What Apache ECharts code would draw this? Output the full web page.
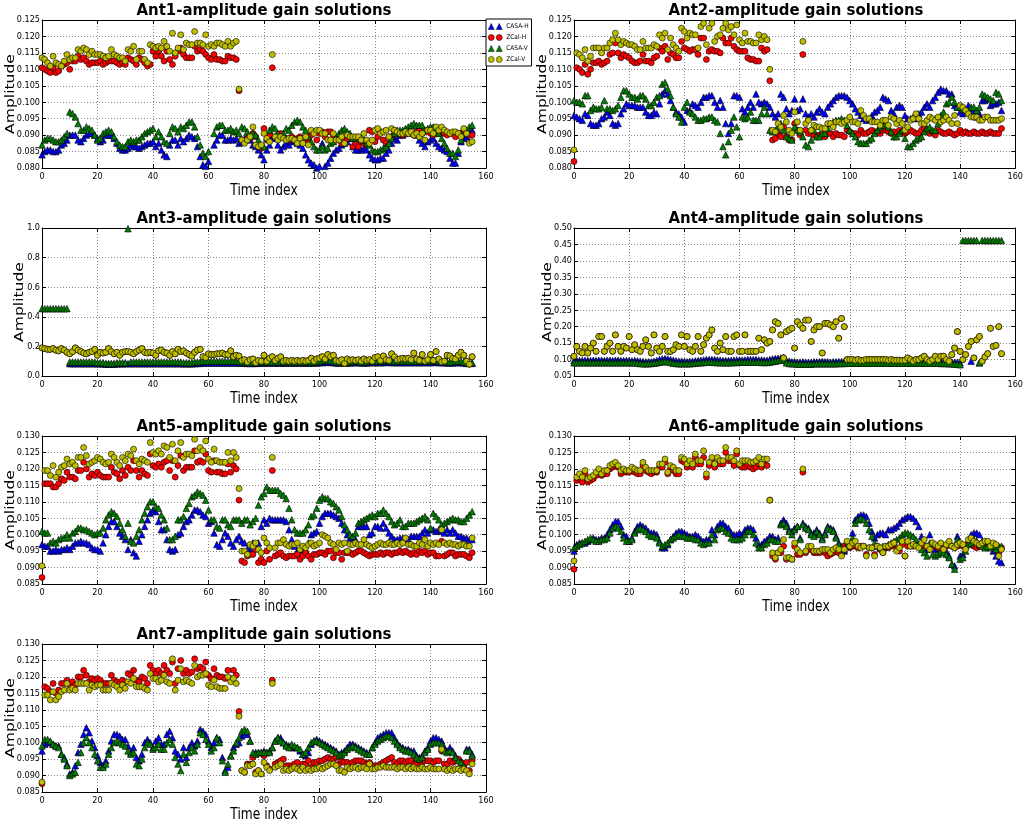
<!DOCTYPE html>
<html>
<head>
<meta charset="utf-8">
<script src="https://cdn.jsdelivr.net/npm/echarts@6/dist/echarts.min.js"></script>
<style>html,body{margin:0;padding:0;background:#fff;}#c{width:1026px;height:824px;}</style>
</head>
<body>
<div id="c"></div>
<script>
// ---------- DATA (time index = array position 0..155) ----------
const seriesNames = ['CASA-H','ZCal-H','CASA-V','ZCal-V'];
const xTicks = [0,20,40,60,80,100,120,140,160];

// Ant1
const a1_casaH = [0.084,0.085,0.0855,0.0855,0.085,0.085,0.0855,0.087,0.0875,0.0885,
0.090,0.090,0.090,0.0885,0.088,0.089,0.090,0.0905,0.0905,0.090,
0.089,0.088,0.0885,0.090,0.090,0.090,0.089,0.0875,0.086,0.0855,
0.0855,0.086,0.087,0.0865,0.0865,0.086,0.0865,0.087,0.0875,0.0875,
0.088,0.0865,0.0875,0.0855,0.084,0.0835,0.087,0.0885,0.0885,0.087,
0.089,0.088,0.089,0.090,0.0895,0.089,0.0865,0.0835,0.081,0.0805,
0.082,null,0.087,0.0885,0.090,0.090,0.0885,0.0885,0.089,0.0885,
0.089,0.0875,0.088,0.089,0.0895,0.0885,0.087,0.0865,0.0855,0.084,
0.0825,0.0855,0.087,0.0895,0.089,0.087,0.0855,0.0865,0.0875,0.087,
0.088,0.0885,0.0875,0.087,0.086,0.084,0.0825,0.0815,0.081,0.080,
0.0805,0.0875,0.0805,0.0815,0.083,0.0845,0.0855,0.086,0.087,0.0875,
0.088,0.089,0.0865,0.0855,0.0855,0.0855,0.086,0.0855,0.084,0.083,
0.0825,0.0825,0.083,0.083,0.0845,0.0855,0.0875,0.089,0.0885,0.090,
0.090,0.0905,0.091,0.091,0.0905,0.090,0.0885,0.0875,0.0865,0.088,
0.0885,0.089,0.0875,0.0865,0.086,0.0855,0.085,0.083,0.0815,0.0815,
0.0845,0.088,0.089,0.0895,0.0905,0.0915];
const a1_zcalH = [0.1105,0.110,0.1095,0.109,0.1105,0.109,0.1095,0.111,0.1115,0.112,
0.110,0.1125,0.1125,0.114,0.113,0.1135,0.1125,0.1115,0.112,0.112,
0.112,0.1125,0.1115,0.112,0.1125,0.1125,0.1125,0.112,0.1115,0.112,
0.1115,0.1135,0.113,0.1125,0.1115,0.1135,0.113,0.112,0.111,0.1115,
0.1155,0.114,0.1155,0.114,0.1125,0.1155,0.113,0.1115,0.114,0.1155,
0.1165,0.1145,0.1135,0.1135,0.1135,0.117,0.1155,0.116,0.1155,0.1145,
0.1135,0.113,0.1145,0.113,0.113,0.1125,0.1125,0.114,0.1135,0.1135,
0.113,0.1035,0.0885,0.0885,0.089,0.089,0.0905,0.0895,0.087,0.086,
0.092,0.0885,0.090,0.1105,0.0895,0.090,0.0905,0.0895,0.089,0.0885,
0.0895,0.0885,0.089,0.0895,0.089,0.0885,0.0885,0.090,0.091,0.0885,
0.0905,0.091,0.0895,0.091,0.091,0.0895,0.0885,0.0885,0.0875,0.0885,
0.089,0.0895,0.0865,0.0875,0.0865,0.088,0.0875,0.087,0.0915,0.091,
0.088,0.0895,0.091,0.0885,0.0875,0.0895,0.0895,0.0905,0.0905,0.0905,
0.090,0.0905,0.0915,0.0905,0.090,0.091,0.0915,0.0905,0.091,0.0915,
0.0905,0.090,0.0915,0.0905,0.0915,0.0905,0.090,0.0905,0.0905,0.0895,
0.0905,0.0905,0.0915,0.0905,0.090,0.090];
const a1_casaV = [0.087,0.0885,0.089,0.089,0.0885,0.088,0.088,0.0885,0.0895,0.0905,
0.097,0.0965,0.0955,0.0935,0.0915,0.0915,0.0925,0.092,0.0915,0.090,
0.0885,0.089,0.0905,0.091,0.0915,0.091,0.0895,0.088,0.087,0.0865,
0.0865,0.088,0.0885,0.088,0.0885,0.0885,0.0895,0.0905,0.091,0.0915,
0.092,0.0895,0.091,0.0895,0.088,0.0875,0.0905,0.0925,0.092,0.091,
0.0925,0.092,0.093,0.094,0.094,0.0925,0.0895,0.087,0.0845,0.0835,
0.085,null,0.0905,0.0925,0.093,0.093,0.0915,0.0915,0.092,0.091,
0.0915,0.0905,0.0925,0.092,0.091,0.0895,0.0905,0.090,0.0885,0.087,
0.0865,0.089,0.0915,0.0925,0.092,0.0905,0.0895,0.0905,0.092,0.0915,
0.093,0.094,0.0945,0.094,0.0925,0.0915,0.0895,0.088,0.0865,0.0855,
0.0855,0.0865,0.0855,0.086,0.0875,0.088,0.0895,0.0905,0.0915,0.092,
0.091,0.0905,0.089,0.089,0.0895,0.089,0.0885,0.0875,0.087,0.0855,
0.085,0.085,0.0855,0.086,0.0865,0.0875,0.089,0.0905,0.0915,0.0915,
0.0915,0.092,0.0925,0.093,0.0935,0.093,0.093,0.093,0.0915,0.092,
0.0925,0.0925,0.092,0.0905,0.089,0.0875,0.086,0.0845,0.0845,0.0835,
0.0855,0.0885,0.0905,0.0915,0.0925,0.093];
const a1_zcalV = [0.1135,0.113,0.112,0.111,0.114,0.112,0.1115,0.111,0.1125,0.1145,
0.113,0.1135,0.1135,0.116,0.1155,0.1165,0.116,0.1145,0.1155,0.1145,
0.1145,0.1145,0.114,0.1135,0.114,0.116,0.1145,0.114,0.1135,0.1135,
0.1125,0.116,0.1155,0.117,0.113,0.1155,0.1155,0.113,0.112,0.1175,
0.117,0.1165,0.117,0.1165,0.1185,0.117,0.1155,0.121,0.115,0.1165,
0.1205,0.116,0.118,0.1175,0.1175,0.1215,0.118,0.118,0.1175,0.1205,
0.117,0.1175,0.117,0.118,0.118,0.1175,0.117,0.1185,0.117,0.118,
0.1185,0.104,0.0885,0.0875,0.0885,0.0895,0.0925,0.087,0.0865,0.087,
0.0905,0.089,0.088,0.1145,0.0895,0.0885,0.0895,0.089,0.0885,0.089,
0.089,0.0885,0.0875,0.089,0.0875,0.0895,0.087,0.0915,0.0905,0.0915,
0.0915,0.0905,0.0905,0.0885,0.0885,0.0905,0.0885,0.0885,0.0895,0.0875,
0.090,0.0895,0.0895,0.0895,0.0895,0.0885,0.0905,0.0885,0.0875,0.0885,
0.0915,0.092,0.0905,0.091,0.0915,0.0895,0.092,0.0915,0.091,0.0905,
0.0905,0.091,0.0905,0.091,0.090,0.0905,0.0895,0.0905,0.0885,0.0915,
0.0915,0.0905,0.0925,0.0915,0.0925,0.0915,0.091,0.0905,0.091,0.091,
0.0905,0.0895,0.092,0.0905,0.0875,0.088];

// Ant2
const a2_casaH = [0.096,0.0955,0.095,0.0945,0.0965,0.096,0.0935,0.093,0.093,0.0935,
0.095,0.0955,0.097,0.096,0.0935,0.093,0.0935,0.0965,0.098,0.0995,
0.099,0.099,0.099,0.0985,0.0985,0.0985,0.097,0.096,0.096,0.097,
0.0965,0.0995,0.1025,0.1035,0.1025,0.1005,0.0985,0.097,0.0965,0.0955,
0.094,0.0975,0.0975,0.0995,0.099,0.0985,0.100,0.1015,0.1015,0.102,
0.102,0.100,0.0985,0.1005,0.0985,0.0935,0.0905,0.0935,0.102,0.102,
0.1015,0.098,0.097,0.0985,0.100,0.0985,0.1025,0.100,0.0995,0.100,
0.0995,0.0985,0.0965,0.0955,0.0965,0.1025,0.1015,0.098,0.0965,0.0975,
0.101,0.0975,0.098,0.101,0.0965,0.0955,0.0965,0.0955,0.097,0.098,
0.097,0.0965,0.0985,0.0995,0.1005,0.1015,0.102,0.102,0.102,0.1015,
0.1005,0.0995,0.098,0.097,0.096,0.095,0.0945,0.095,0.096,0.097,
0.0975,0.0985,0.1015,0.101,0.1005,0.0975,0.0965,0.0985,0.099,0.0985,
0.096,0.095,0.095,0.0955,0.095,0.0965,0.097,0.0985,0.0995,0.0985,
0.1005,0.1015,0.103,0.104,0.1035,0.1035,0.1025,0.1025,0.099,0.0985,
0.097,0.0965,0.0975,0.099,0.098,0.0975,0.0955,0.0965,0.1005,0.1005,
0.101,0.099,0.0995,0.0995,0.100,0.0975];
const a2_zcalH = [0.082,0.1105,0.110,0.109,0.1115,0.1085,0.110,0.112,0.112,0.1125,
0.1115,0.112,0.1125,0.1145,0.115,0.118,0.115,0.1135,0.1145,0.114,
0.1135,0.1125,0.112,0.112,0.1125,0.1145,0.1125,0.1125,0.112,0.1135,
0.114,0.1165,0.1155,0.117,0.113,0.115,0.1145,0.1135,0.1135,0.1185,
0.1165,0.116,0.1155,0.116,0.116,0.1145,0.1195,0.1195,0.113,0.1155,
0.116,0.1155,0.1155,0.115,0.1195,0.118,0.118,0.1195,0.117,0.116,
0.1155,0.1155,0.1155,0.1135,0.113,0.113,0.1125,0.1125,0.1165,0.1155,
0.116,0.1065,0.0885,0.089,0.0905,0.0895,0.0925,0.0895,0.0885,0.0885,
0.0935,0.0915,0.090,0.1145,0.0915,0.0905,0.0905,0.090,0.0895,0.090,
0.0905,0.0895,0.0905,0.0905,0.0895,0.0905,0.090,0.090,0.0895,0.0915,
0.091,0.0905,0.0905,0.090,0.0915,0.0905,0.0905,0.091,0.0915,0.091,
0.091,0.0905,0.0915,0.0915,0.091,0.0905,0.091,0.0905,0.0915,0.091,
0.0905,0.091,0.0915,0.091,0.0905,0.0905,0.0915,0.092,0.0915,0.0905,
0.091,0.090,0.0915,0.091,0.0905,0.0905,0.091,0.0905,0.090,0.0905,
0.0915,0.0905,0.091,0.0905,0.0905,0.091,0.0905,0.0905,0.091,0.0905,
0.0905,0.091,0.0905,0.0905,0.0905,0.092];
const a2_casaV = [0.1005,0.100,0.100,0.0995,0.102,0.102,0.0975,0.0985,0.098,0.098,
0.0985,0.1005,0.098,0.098,0.0975,0.098,0.099,0.1015,0.1035,0.1035,
0.1025,0.1015,0.1015,0.101,0.102,0.102,0.101,0.099,0.099,0.100,
0.1015,0.102,0.1055,0.106,0.104,0.102,0.0985,0.0965,0.0955,0.094,
0.0985,0.100,0.097,0.0965,0.0955,0.0945,0.0945,0.095,0.095,0.0955,
0.0955,0.0945,0.094,0.0905,0.0865,0.084,0.088,0.0915,0.0955,0.0925,
0.0895,0.0955,0.095,0.0955,0.097,0.0945,0.0945,0.0945,0.0965,0.0985,
0.0965,0.0915,0.091,0.0915,0.0925,0.0935,0.0915,0.0895,0.089,0.0885,
0.0925,0.0915,0.091,0.0895,0.087,0.0865,0.0885,0.0915,0.0895,0.0895,
0.0905,0.0905,0.092,0.0935,0.094,0.0945,0.0945,0.095,0.0945,0.093,
0.0915,0.0905,0.0895,0.088,0.0875,0.0875,0.0875,0.0885,0.089,0.0905,
0.0915,0.0925,0.093,0.0935,0.0925,0.091,0.0895,0.0895,0.0905,0.0915,
0.089,0.0865,0.0865,0.0875,0.0885,0.089,0.0895,0.091,0.092,0.0925,
0.0915,0.0915,0.0935,0.096,0.097,0.0995,0.100,0.1015,0.100,0.0985,
0.0985,0.098,0.0975,0.0975,0.0985,0.0985,0.0975,0.0985,0.1025,0.102,
0.1015,0.101,0.1005,0.103,0.1025,0.1005];
const a2_zcalV = [0.0855,0.115,0.1145,0.1135,0.116,0.1125,0.114,0.1165,0.1165,0.1165,
0.115,0.1165,0.1165,0.118,0.119,0.121,0.119,0.1175,0.1185,0.118,
0.1175,0.1175,0.117,0.116,0.116,0.1185,0.1165,0.1165,0.1165,0.1175,
0.117,0.1205,0.1195,0.121,0.116,0.1195,0.1175,0.1165,0.1155,0.1225,
0.1215,0.1195,0.121,0.1205,0.1205,0.1165,0.123,0.124,0.1175,0.1225,
0.124,0.1185,0.120,0.1205,0.1225,0.124,0.122,0.123,0.1205,0.1235,
0.119,0.118,0.121,0.1185,0.1185,0.118,0.118,0.1205,0.119,0.120,
0.119,0.110,0.0915,0.091,0.0935,0.0925,0.096,0.094,0.0915,0.0905,
0.097,0.094,0.0915,0.1185,0.0935,0.0945,0.0915,0.093,0.0925,0.0925,
0.092,0.092,0.0935,0.0935,0.0925,0.094,0.094,0.0935,0.094,0.0945,
0.0955,0.094,0.094,0.0935,0.0975,0.096,0.095,0.095,0.094,0.094,
0.094,0.093,0.0945,0.0945,0.093,0.0955,0.095,0.0935,0.0945,0.0935,
0.0915,0.0925,0.0945,0.095,0.0965,0.095,0.0935,0.0935,0.0945,0.0955,
0.095,0.0945,0.0955,0.094,0.0945,0.0955,0.0945,0.0935,0.096,0.0935,
0.099,0.0985,0.0975,0.0965,0.0955,0.0955,0.0955,0.0945,0.0945,0.0955,
0.0955,0.0945,0.0945,0.0945,0.0945,0.095];

// Ant3
const a3_casaH = [null,null,null,null,null,null,null,null,null,null,
0.083,0.083,0.083,0.083,0.083,0.083,0.083,0.083,0.083,0.083,
0.082,0.082,0.082,0.080,0.080,0.080,0.080,0.082,0.082,0.082,
0.083,0.083,0.083,0.083,0.083,0.083,0.083,0.083,0.083,0.083,
0.083,0.083,0.083,0.083,0.083,0.083,0.083,0.083,0.083,0.083,
0.083,0.082,0.082,0.082,0.082,0.083,0.085,0.085,0.087,0.087,
0.088,0.088,0.088,0.088,0.088,0.088,0.088,0.088,0.088,0.088,
0.088,0.088,0.086,0.086,0.085,0.085,0.085,0.085,0.086,0.086,
0.087,0.087,0.087,0.087,0.087,0.087,0.087,0.087,0.087,0.087,
0.087,0.087,0.087,0.087,0.087,0.087,0.087,0.087,0.087,0.088,
0.090,0.090,0.092,0.092,0.092,0.090,0.088,0.088,0.088,0.088,
0.088,0.088,0.090,0.090,0.090,0.088,0.088,0.088,0.090,0.090,
0.090,0.090,0.090,0.090,0.092,0.092,0.090,0.090,0.090,0.090,
0.090,0.090,0.090,0.090,0.090,0.090,0.090,0.090,0.090,0.090,
0.090,0.092,0.092,0.090,0.090,0.090,0.088,0.088,0.088,0.090,
0.090,0.090,0.088,0.085,0.085,0.085];
const a3_casaV = [0.455,0.455,0.455,0.455,0.455,0.455,0.455,0.455,0.455,0.455,
0.095,0.095,0.095,0.095,0.095,0.095,0.095,0.095,0.095,0.095,
0.090,0.090,0.090,0.085,0.085,0.085,0.085,0.090,0.090,0.090,
0.090,0.995,0.095,0.095,0.095,0.095,0.095,0.095,0.095,0.095,
0.095,0.095,0.095,0.095,0.095,0.095,0.095,0.095,0.095,0.095,
0.095,0.090,0.090,0.090,0.090,0.095,0.095,0.095,0.100,0.100,
0.100,0.100,0.100,0.100,0.100,0.100,0.100,0.100,0.100,0.100,
0.100,0.100,0.095,0.095,0.090,0.090,0.090,0.090,0.095,0.095,
0.095,0.095,0.095,0.095,0.095,0.095,0.095,0.095,0.095,0.095,
0.095,0.095,0.095,0.095,0.095,0.095,0.095,0.095,0.095,0.095,
0.100,0.100,0.105,0.105,0.105,0.100,0.095,0.095,0.095,0.095,
0.095,0.095,0.100,0.100,0.100,0.095,0.095,0.095,0.100,0.100,
0.100,0.100,0.100,0.100,0.105,0.105,0.100,0.100,0.100,0.100,
0.100,0.100,0.100,0.100,0.100,0.100,0.100,0.100,0.100,0.100,
0.100,0.105,0.105,0.100,0.100,0.100,0.095,0.095,0.095,0.100,
0.100,0.100,0.095,0.090,0.090,0.090];
const a3_zcalV = [0.19,0.185,0.18,0.18,0.185,0.175,0.17,0.185,0.175,0.16,
0.15,0.165,0.19,0.175,0.165,0.155,0.15,0.16,0.165,0.18,
0.14,0.16,0.155,0.16,0.185,0.165,0.15,0.16,0.14,0.16,
0.165,0.165,0.16,0.15,0.165,0.175,0.185,0.16,0.155,0.16,
0.155,0.14,0.17,0.175,0.16,0.155,0.14,0.165,0.15,0.18,
0.165,0.17,0.155,0.145,0.135,0.16,0.175,0.18,0.13,0.125,
0.15,0.145,0.145,0.15,0.15,0.155,0.145,0.145,0.17,0.13,
0.14,0.135,0.105,0.11,0.095,0.11,0.115,0.09,0.105,0.10,
0.14,0.10,0.12,0.13,0.105,0.12,0.13,0.10,0.105,0.10,
0.105,0.10,0.105,0.10,0.105,0.10,0.105,0.12,0.10,0.115,
0.12,0.13,0.115,0.145,0.13,0.14,0.105,0.10,0.11,0.085,
0.115,0.105,0.11,0.105,0.11,0.10,0.115,0.105,0.11,0.10,
0.125,0.13,0.105,0.135,0.11,0.105,0.15,0.13,0.11,0.115,
0.12,0.115,0.12,0.11,0.155,0.115,0.105,0.145,0.10,0.11,
0.145,0.105,0.165,0.115,0.095,0.10,0.14,0.135,0.12,0.115,
0.14,0.16,0.14,0.10,0.08,0.13];
const a3_zcalH = a3_zcalV; // red markers lie fully under the yellow ones

// Ant4
const a4_casaH = [0.097,0.097,0.097,0.097,0.098,0.097,0.097,0.098,0.097,0.098,
0.098,0.097,0.098,0.098,0.097,0.098,0.098,0.097,0.097,0.097,
0.097,0.096,0.097,0.096,0.095,0.094,0.093,0.093,0.093,0.095,
0.097,0.100,0.102,0.103,0.102,0.100,0.098,0.096,0.095,0.095,
0.094,0.093,0.094,0.095,0.096,0.097,0.098,0.099,0.100,0.100,
0.100,0.100,0.099,0.098,0.097,0.097,0.097,0.098,0.098,0.099,
0.099,0.099,0.099,0.100,0.100,0.100,0.100,0.099,0.099,0.098,
0.098,0.100,0.102,0.103,0.104,0.105,0.107,0.097,0.095,0.093,
0.093,0.092,0.092,0.093,0.092,0.092,0.092,0.093,0.093,0.093,
0.094,0.093,0.093,0.092,0.093,0.093,0.094,0.094,0.094,0.094,
0.094,0.094,0.094,0.094,0.094,0.094,0.094,0.094,0.094,0.094,
0.094,0.094,0.094,0.094,0.094,0.094,0.094,0.094,0.094,0.094,
0.094,0.094,0.094,0.094,0.094,0.094,0.094,0.094,0.094,0.094,
0.094,0.094,0.094,0.093,0.093,0.093,0.092,0.092,0.092,0.092,
0.090,null,null,null,0.095,null,null,0.090,null,null,
null,null,null,null,null,null];
const a4_casaV = [0.090,0.090,0.090,0.090,0.090,0.090,0.090,0.090,0.090,0.090,
0.090,0.090,0.090,0.090,0.090,0.090,0.090,0.090,0.090,0.090,
0.090,0.090,0.090,0.089,0.088,0.087,0.087,0.087,0.088,0.089,
0.090,0.092,0.093,0.094,0.093,0.091,0.089,0.088,0.087,0.087,
0.087,0.087,0.087,0.088,0.089,0.090,0.090,0.091,0.092,0.092,
0.092,0.091,0.091,0.090,0.090,0.090,0.090,0.090,0.091,0.091,
0.092,0.092,0.092,0.092,0.092,0.092,0.092,0.092,0.091,0.091,
0.091,0.092,0.094,0.095,0.097,0.098,0.100,0.090,0.088,0.087,
0.087,0.086,0.086,0.086,0.086,0.086,0.086,0.087,0.087,0.087,
0.087,0.087,0.087,0.087,0.087,0.087,0.088,0.088,0.088,0.089,
0.089,0.089,0.089,0.089,0.089,0.089,0.089,0.089,0.089,0.089,
0.089,0.089,0.089,0.089,0.089,0.089,0.089,0.089,0.089,0.089,
0.089,0.089,0.089,0.089,0.089,0.089,0.089,0.089,0.089,0.089,
0.089,0.089,0.089,0.088,0.088,0.088,0.087,0.087,0.086,0.086,
0.084,0.462,0.462,0.462,0.462,0.462,0.462,0.090,0.462,0.462,
0.462,0.462,0.462,0.462,0.462,0.462];
const a4_zcalV = [0.11,0.14,0.125,0.12,0.14,0.12,0.135,0.15,0.125,0.17,
0.17,0.125,0.14,0.15,0.125,0.175,0.14,0.125,0.14,0.135,
0.17,0.13,0.145,0.13,0.125,0.14,0.16,0.14,0.12,0.175,
0.135,0.125,0.14,0.17,0.125,0.125,0.13,0.145,0.14,0.175,
0.14,0.17,0.13,0.125,0.14,0.17,0.125,0.145,0.165,0.175,
0.19,0.135,0.125,0.15,0.13,0.17,0.125,0.125,0.17,0.175,
0.125,0.125,0.175,0.125,0.125,0.125,0.125,0.165,0.13,0.16,
0.15,0.155,0.19,0.215,0.21,0.175,0.105,0.185,0.19,0.195,
0.135,0.215,0.205,0.195,0.22,0.22,0.155,0.19,0.20,0.20,
0.12,0.21,0.21,0.205,0.20,0.215,0.165,0.225,0.20,0.10,
0.10,0.10,0.098,0.10,0.097,0.098,0.10,0.10,0.10,0.10,
0.10,0.10,0.10,0.10,0.098,0.10,0.098,0.098,0.098,0.097,
0.098,0.105,0.10,0.095,0.10,0.10,0.105,0.11,0.10,0.095,
0.10,0.11,0.10,0.11,0.11,0.10,0.095,0.115,0.135,0.185,
0.125,0.10,0.115,0.14,0.155,0.105,0.16,0.17,0.095,0.108,
0.118,0.195,0.14,0.143,0.20,0.118];
const a4_zcalH = a4_zcalV; // red markers lie under the yellow ones

// Ant5
const a5_casaH = [0.097,0.0965,0.0965,0.095,0.095,0.0955,0.095,0.0955,0.0955,0.096,
0.0955,0.0965,0.0975,0.0975,0.098,0.0975,0.0975,0.097,0.096,0.0955,
0.0955,0.095,0.0975,0.100,0.1025,0.104,0.104,0.1025,0.1005,0.0995,
0.0985,0.0955,0.0985,0.0945,0.0935,0.098,0.100,0.1025,0.1045,0.1065,
0.1075,0.107,0.104,0.1015,0.1015,0.0985,0.0955,0.095,0.0955,0.100,
0.1005,0.1025,0.104,0.1045,0.106,0.1075,0.1075,0.107,0.106,0.1055,
0.1035,0.104,0.1005,0.097,0.0965,0.0985,0.1005,0.0995,0.0975,0.0965,
0.0985,0.0995,0.098,0.0975,0.0955,0.0955,0.0975,0.0965,0.0975,0.1025,
0.1045,0.1035,0.105,0.1045,0.1045,0.1045,0.1045,0.1045,0.104,0.1015,
0.0985,0.0965,0.095,0.0955,0.0955,0.0955,0.0975,0.100,0.1005,0.101,
0.1035,0.1055,0.1065,0.1065,0.1065,0.106,0.1055,0.105,0.1035,0.1015,
0.100,0.099,0.0985,0.0985,0.1025,0.1025,0.1025,0.1025,0.100,0.1005,
0.1025,0.1025,0.102,0.1035,0.102,0.1005,0.0995,0.0985,0.0985,0.099,
0.099,0.0985,0.0985,0.0995,0.0995,0.0995,0.0995,0.1005,0.1015,0.1005,
0.1015,0.1015,0.101,0.1015,0.101,0.1005,0.1015,0.1005,0.1015,0.1005,
0.0995,0.0995,0.099,0.099,0.0985,0.0985];
const a5_zcalH = [0.087,0.1155,0.1155,0.1155,0.1145,0.1145,0.1155,0.117,0.1165,0.119,
0.1175,0.1175,0.117,0.1195,0.1195,0.122,0.120,0.1175,0.1185,0.118,
0.119,0.118,0.1175,0.1175,0.1175,0.1205,0.119,0.1185,0.117,0.1195,
0.118,0.1205,0.1195,0.1225,0.1195,0.1175,0.1195,0.1185,0.118,0.1245,
0.121,0.1205,0.1215,0.1205,0.122,0.1225,0.1195,0.1225,0.1175,0.121,
0.124,0.1195,0.1205,0.1205,0.1205,0.1255,0.122,0.1225,0.122,0.1245,
0.1195,0.119,0.1225,0.119,0.119,0.1185,0.1185,0.1215,0.119,0.121,
0.120,0.1105,0.092,0.0915,0.0935,0.094,0.094,0.0955,0.0915,0.0925,
0.0915,0.095,0.0925,0.1195,0.0935,0.094,0.0945,0.0935,0.093,0.0935,
0.0935,0.0935,0.094,0.0925,0.0935,0.0945,0.0935,0.0925,0.094,0.094,
0.0945,0.0945,0.094,0.095,0.095,0.093,0.0945,0.0945,0.0925,0.0945,
0.0945,0.0945,0.094,0.0945,0.095,0.095,0.0945,0.094,0.0935,0.094,
0.094,0.094,0.0945,0.094,0.0945,0.0945,0.094,0.0945,0.0945,0.095,
0.0945,0.095,0.0945,0.094,0.0945,0.094,0.095,0.0945,0.095,0.094,
0.0945,0.0945,0.0935,0.0935,0.098,0.0935,0.094,0.0945,0.0945,0.0935,
0.094,0.094,0.094,0.0935,0.093,0.0945];
const a5_casaV = [0.101,0.1005,0.1005,0.0975,0.098,0.0975,0.0985,0.099,0.099,0.100,
0.099,0.1005,0.101,0.102,0.102,0.1015,0.1015,0.101,0.1005,0.100,
0.1005,0.1005,0.102,0.1045,0.106,0.107,0.1065,0.1055,0.1035,0.1015,
0.0995,0.1035,0.098,0.0975,0.0995,0.1015,0.1045,0.1065,0.1085,0.110,
0.110,0.1085,0.108,0.106,0.1045,0.102,0.0985,0.0985,0.0995,0.1045,
0.1045,0.1055,0.108,0.1095,0.1115,0.112,0.113,0.1125,0.112,0.1105,
0.1075,0.1045,0.1045,0.1025,0.102,0.1045,0.1045,0.103,0.1025,0.1045,
0.1045,0.1045,0.1035,0.1045,0.1045,0.103,0.104,0.105,0.109,0.1115,
0.1125,0.1145,0.1135,0.1135,0.1135,0.1135,0.1125,0.112,0.111,0.108,
0.1045,0.1015,0.1005,0.1005,0.1005,0.1015,0.103,0.1055,0.106,0.108,
0.1105,0.1115,0.111,0.111,0.110,0.1095,0.1085,0.1075,0.1055,0.103,
0.1015,0.100,0.0995,0.1005,0.1035,0.104,0.1045,0.105,0.1055,0.106,
0.1055,0.1065,0.1065,0.1075,0.1065,0.1055,0.104,0.103,0.1035,0.1045,
0.1025,0.1025,0.1035,0.1035,0.1035,0.104,0.1045,0.105,0.1055,0.1045,
0.102,0.1065,0.1055,0.1045,0.103,0.1035,0.104,0.1045,0.105,0.1045,
0.1045,0.104,0.104,0.105,0.106,0.107];
const a5_zcalV = [0.0905,0.1195,0.1195,0.118,0.121,0.1175,0.119,0.1205,0.121,0.123,
0.1215,0.122,0.121,0.1235,0.1235,0.1265,0.124,0.1215,0.122,0.1225,
0.1235,0.123,0.122,0.1215,0.122,0.1245,0.1235,0.122,0.121,0.1235,
0.1225,0.1245,0.124,0.126,0.1225,0.1215,0.123,0.1225,0.122,0.128,
0.125,0.1245,0.1255,0.1245,0.127,0.1265,0.1235,0.1275,0.1225,0.1255,
0.128,0.1235,0.1245,0.1245,0.124,0.129,0.1255,0.1265,0.1255,0.1285,
0.123,0.122,0.126,0.1225,0.122,0.122,0.122,0.125,0.1225,0.125,
0.1235,0.114,0.095,0.095,0.094,0.097,0.0965,0.0975,0.0955,0.0945,
0.099,0.0975,0.096,0.1235,0.096,0.0975,0.0975,0.0985,0.097,0.0965,
0.097,0.097,0.0975,0.0955,0.0965,0.096,0.097,0.0975,0.0965,0.097,
0.0975,0.100,0.0995,0.099,0.0975,0.097,0.0955,0.0975,0.097,0.0975,
0.095,0.097,0.097,0.0975,0.097,0.097,0.0985,0.097,0.0965,0.096,
0.0965,0.097,0.0975,0.097,0.097,0.0975,0.097,0.097,0.0975,0.097,
0.0975,0.099,0.097,0.097,0.0965,0.0965,0.0975,0.097,0.0985,0.0965,
0.0975,0.097,0.0975,0.097,0.1015,0.0975,0.097,0.0975,0.097,0.097,
0.0965,0.097,0.097,0.0965,0.0965,0.099];

// Ant6
const a6_casaH = [0.095,0.097,0.0975,0.0975,0.0975,0.098,0.0985,0.099,0.0985,0.0985,
0.099,0.099,0.100,0.1015,0.103,0.104,0.104,0.1025,0.100,0.0995,
0.098,0.099,0.101,0.1025,0.103,0.1025,0.102,0.101,0.1005,0.1005,
0.100,0.098,0.096,0.096,0.097,0.0985,0.0995,0.1005,0.101,0.101,
0.1005,0.100,0.0995,0.0995,0.100,0.0995,0.0985,0.098,0.0985,0.0985,
0.1015,0.100,0.1025,0.1035,0.1035,0.1025,0.102,0.1005,0.100,0.100,
0.1005,0.100,0.1015,0.102,0.102,0.1015,0.099,0.097,0.097,0.098,
0.0985,0.0995,0.0995,0.0985,0.099,0.1035,0.1045,0.1035,0.1015,0.101,
0.102,0.1025,0.099,0.1035,0.1025,0.102,0.1005,0.1005,0.1015,0.1005,
0.099,0.1005,0.1025,0.102,0.1015,0.0995,0.0975,0.0965,0.095,0.097,
0.0975,0.1005,0.1045,0.1055,0.106,0.106,0.1055,0.1035,0.101,0.099,
0.100,0.1005,0.1005,0.100,0.1015,0.1015,0.102,0.1025,0.1035,0.1045,
0.105,0.1055,0.1055,0.105,0.104,0.1025,0.0995,0.097,0.0955,0.100,
0.0975,0.0955,0.096,0.096,0.0955,0.095,0.0935,0.091,0.0905,0.0995,
0.0935,0.094,0.0965,0.0985,0.100,0.1005,0.1005,0.100,0.098,0.0975,
0.0975,0.0965,0.095,0.0935,0.092,0.0915];
const a6_zcalH = [0.0895,0.1165,0.117,0.116,0.1185,0.116,0.1165,0.117,0.118,0.119,
0.118,0.1185,0.1185,0.120,0.1205,0.121,0.1205,0.1185,0.119,0.119,
0.119,0.1195,0.119,0.1185,0.1185,0.121,0.1195,0.119,0.1185,0.119,
0.119,0.1205,0.1205,0.122,0.1185,0.120,0.1195,0.1185,0.1185,0.1225,
0.122,0.1205,0.121,0.1205,0.1235,0.1215,0.1215,0.1235,0.1175,0.121,
0.1225,0.1205,0.1215,0.1215,0.1215,0.125,0.1225,0.1225,0.121,0.1245,
0.121,0.1205,0.1205,0.121,0.1205,0.120,0.1205,0.1215,0.1205,0.1215,
0.121,0.1105,0.0935,0.0925,0.0945,0.0945,0.0965,0.0925,0.093,0.0925,
0.0965,0.094,0.094,0.119,0.0945,0.0955,0.0955,0.0945,0.0945,0.0945,
0.095,0.0945,0.0935,0.094,0.0945,0.095,0.0945,0.094,0.0965,0.0975,
0.096,0.0965,0.0965,0.096,0.0965,0.0965,0.094,0.096,0.096,0.094,
0.0965,0.0955,0.0945,0.096,0.096,0.0965,0.097,0.0955,0.095,0.097,
0.0935,0.0965,0.0965,0.0965,0.097,0.0965,0.0965,0.0965,0.0965,0.0965,
0.097,0.0965,0.096,0.0965,0.0965,0.0965,0.0975,0.0965,0.096,0.0965,
0.097,0.0965,0.0965,0.097,0.0975,0.0965,0.096,0.0965,0.097,0.0975,
0.0975,0.0965,0.097,0.0965,0.0945,0.096];
const a6_casaV = [0.096,0.0965,0.097,0.0975,0.098,0.0985,0.099,0.0985,0.098,0.098,
0.0985,0.0985,0.099,0.1005,0.102,0.1025,0.102,0.101,0.099,0.098,
0.098,0.0985,0.1005,0.1015,0.102,0.1015,0.101,0.100,0.0995,0.0995,
0.099,0.0975,0.0965,0.097,0.0975,0.0985,0.099,0.0995,0.100,0.0995,
0.0995,0.099,0.099,0.099,0.0985,0.0985,0.0975,0.097,0.0975,0.0975,
0.100,0.0985,0.1015,0.102,0.102,0.101,0.1005,0.099,0.0985,0.0985,
0.0985,0.099,0.100,0.101,0.101,0.100,0.0975,0.096,0.096,0.097,
0.0975,0.0985,0.0985,0.098,0.098,0.103,0.1035,0.1025,0.101,0.100,
0.1015,0.1025,0.0985,0.103,0.102,0.1015,0.100,0.0995,0.101,0.100,
0.0985,0.100,0.102,0.1015,0.101,0.099,0.097,0.096,0.0955,0.0965,
0.097,0.099,0.1035,0.1045,0.105,0.1045,0.1035,0.1015,0.0995,0.0975,
0.0965,0.096,0.0965,0.0965,0.097,0.0975,0.098,0.0985,0.099,0.100,
0.1005,0.1005,0.100,0.0995,0.0985,0.097,0.0955,0.0945,0.0935,0.0975,
0.094,0.0935,0.094,0.0945,0.0945,0.094,0.093,0.091,0.0895,0.0985,
0.0925,0.093,0.095,0.097,0.0975,0.0985,0.098,0.097,0.0965,0.096,
0.0965,0.096,0.0965,0.0955,0.0965,0.0965];
const a6_zcalV = [0.092,0.1175,0.1185,0.1175,0.1195,0.117,0.1175,0.118,0.119,0.120,
0.1185,0.1195,0.1195,0.121,0.1215,0.122,0.121,0.1195,0.120,0.1195,
0.1195,0.1205,0.120,0.1195,0.1195,0.122,0.1205,0.1195,0.1195,0.1195,
0.1195,0.1215,0.1215,0.123,0.119,0.121,0.1205,0.1195,0.1195,0.1235,
0.123,0.1215,0.1225,0.1215,0.1245,0.1225,0.1225,0.1255,0.1185,0.122,
0.1235,0.1215,0.1235,0.1225,0.1225,0.1265,0.1235,0.1235,0.1225,0.1255,
0.1215,0.1225,0.1225,0.1225,0.122,0.122,0.1225,0.1235,0.1215,0.123,
0.123,0.1105,0.0945,0.093,0.0945,0.0955,0.0985,0.093,0.093,0.0925,
0.0975,0.0955,0.0945,0.120,0.095,0.0965,0.0965,0.095,0.095,0.095,
0.0955,0.0955,0.0955,0.0945,0.0955,0.096,0.0955,0.0935,0.0955,0.098,
0.0965,0.0975,0.098,0.0965,0.096,0.0965,0.0935,0.096,0.096,0.0935,
0.0965,0.096,0.0945,0.0965,0.0965,0.097,0.0975,0.095,0.096,0.098,
0.0935,0.098,0.0965,0.097,0.0965,0.096,0.0975,0.0985,0.0965,0.0955,
0.0975,0.097,0.0965,0.0975,0.0955,0.097,0.098,0.0965,0.096,0.097,
0.0975,0.097,0.0955,0.0985,0.099,0.098,0.0975,0.097,0.0975,0.098,
0.098,0.0965,0.0975,0.097,0.0935,0.0955];

// Ant7
const a7_casaH = [0.0975,0.0995,0.100,0.100,0.0995,0.099,0.099,0.0965,0.0955,0.0935,
0.0905,0.091,0.093,0.097,0.0995,0.1025,0.1045,0.103,0.1005,0.0985,
0.096,0.094,0.093,0.0945,0.0975,0.1005,0.1025,0.1025,0.102,0.101,
0.101,0.099,0.097,0.0985,0.0955,0.0945,0.0965,0.100,0.101,0.100,
0.0985,0.1005,0.1015,0.0995,0.0995,0.1025,0.1035,0.1015,0.0975,0.0965,
0.095,0.0985,0.0955,0.0985,0.100,0.099,0.1005,0.104,0.1035,0.1025,
0.1005,0.0985,0.100,0.1015,0.101,0.0955,0.0915,0.0925,0.096,0.0985,
0.0995,0.100,0.102,0.103,0.1025,0.1005,0.0965,0.097,0.097,0.097,
0.0975,0.097,0.0975,0.0985,0.1005,0.1015,0.1015,0.100,0.0995,0.099,
0.0985,0.0985,0.0985,0.0975,0.0965,0.096,0.097,0.0995,0.1005,0.101,
0.1005,0.100,0.0995,0.099,0.0985,0.098,0.0975,0.0965,0.097,0.0975,
0.0985,0.0995,0.0995,0.099,0.0985,0.098,0.0975,0.097,0.0965,0.0985,
0.100,0.1015,0.102,0.1025,0.103,0.103,0.103,0.1015,0.100,0.099,
0.0985,0.098,0.098,0.0975,0.0975,0.096,0.0955,0.096,0.0975,0.0985,
0.1005,0.1015,0.1015,0.101,0.1005,0.0985,0.0975,0.0985,0.0975,0.096,
0.095,0.0945,0.0935,0.098,0.098,0.0965];
const a7_zcalH = [0.0875,0.117,0.1165,0.1155,0.118,0.115,0.116,0.118,0.118,0.119,
0.1175,0.1185,0.1175,0.120,0.120,0.122,0.1205,0.1185,0.1195,0.119,
0.1195,0.119,0.118,0.118,0.118,0.1205,0.119,0.1185,0.118,0.119,
0.1185,0.121,0.1205,0.122,0.119,0.1185,0.120,0.1195,0.118,0.1235,
0.122,0.121,0.122,0.121,0.1235,0.122,0.121,0.1245,0.118,0.1225,
0.125,0.121,0.122,0.121,0.1215,0.1255,0.1225,0.123,0.1225,0.1245,
0.1205,0.1195,0.1225,0.1205,0.120,0.120,0.1195,0.122,0.1195,0.122,
0.1205,0.1095,0.0915,0.091,0.0935,0.0935,0.0955,0.091,0.0915,0.0905,
0.096,0.093,0.092,0.119,0.0935,0.094,0.0945,0.095,0.093,0.093,
0.093,0.0935,0.094,0.092,0.0935,0.0935,0.0945,0.0925,0.094,0.094,
0.0945,0.0945,0.095,0.0955,0.095,0.095,0.0955,0.0935,0.0945,0.094,
0.094,0.0935,0.094,0.0945,0.0945,0.0945,0.094,0.0935,0.094,0.093,
0.093,0.093,0.0935,0.094,0.0945,0.095,0.0955,0.094,0.0935,0.0945,
0.0945,0.094,0.0945,0.0945,0.0935,0.0935,0.0945,0.094,0.0945,0.0945,
0.0945,0.094,0.0945,0.0945,0.0975,0.0935,0.0935,0.0945,0.094,0.0945,
0.095,0.094,0.0935,0.094,0.0915,0.0945];
const a7_casaV = [0.099,0.101,0.101,0.1005,0.0995,0.099,0.0985,0.0965,0.095,0.093,
0.090,0.0905,0.091,0.094,0.097,0.100,0.1015,0.100,0.0985,0.0965,
0.0945,0.0925,0.0925,0.0935,0.0965,0.0985,0.100,0.1005,0.100,0.0995,
0.099,0.0975,0.0965,0.097,0.0935,0.093,0.095,0.0985,0.100,0.0995,
0.098,0.0985,0.0995,0.098,0.098,0.100,0.101,0.0995,0.0955,0.0935,
0.0915,0.0965,0.094,0.097,0.0985,0.0975,0.0995,0.103,0.1025,0.101,
0.0995,0.0975,0.0985,0.1015,0.100,0.0945,0.091,0.0935,0.096,0.0975,
0.100,0.1015,0.1035,0.104,0.1035,0.1005,0.097,0.0965,0.097,0.097,
0.097,0.097,0.097,0.0985,0.1005,0.1015,0.1005,0.100,0.099,0.0985,
0.0995,0.099,0.0985,0.098,0.0965,0.097,0.0985,0.100,0.1005,0.1005,
0.100,0.0995,0.099,0.0985,0.098,0.0975,0.097,0.096,0.0965,0.097,
0.098,0.0985,0.099,0.0985,0.098,0.0975,0.097,0.0965,0.0965,0.0985,
0.0995,0.1005,0.101,0.1015,0.102,0.102,0.1015,0.1005,0.0995,0.0985,
0.098,0.0975,0.0975,0.097,0.0965,0.0955,0.095,0.0955,0.097,0.098,
0.0995,0.100,0.100,0.100,0.0995,0.0975,0.097,0.0975,0.097,0.0955,
0.0945,0.094,0.093,0.0975,0.0975,0.096];
const a7_zcalV = [0.088,0.1145,0.1145,0.113,0.1155,0.113,0.114,0.1155,0.116,0.118,
0.116,0.1165,0.116,0.118,0.118,0.118,0.118,0.116,0.1175,0.117,
0.1175,0.1175,0.116,0.116,0.116,0.118,0.1175,0.117,0.116,0.1175,
0.1165,0.1185,0.118,0.1195,0.117,0.117,0.117,0.1165,0.116,0.121,
0.1195,0.1195,0.1185,0.119,0.1205,0.1185,0.118,0.1255,0.116,0.119,
0.1225,0.1185,0.119,0.1185,0.118,0.1235,0.120,0.1205,0.1205,0.121,
0.1175,0.117,0.119,0.117,0.1165,0.1165,0.1165,0.120,0.1185,0.1195,
0.118,0.108,0.0915,0.091,0.093,0.093,0.0935,0.0905,0.0915,0.0905,
0.094,0.0925,0.0915,0.118,0.0925,0.093,0.0935,0.0915,0.092,0.0915,
0.092,0.0925,0.092,0.0915,0.0925,0.0915,0.092,0.0915,0.092,0.092,
0.0925,0.092,0.0925,0.093,0.0935,0.0935,0.093,0.0915,0.0915,0.091,
0.0925,0.092,0.0925,0.0925,0.092,0.0925,0.0925,0.092,0.0935,0.092,
0.092,0.0925,0.0925,0.093,0.0925,0.0925,0.0925,0.0925,0.092,0.0925,
0.0925,0.092,0.0925,0.092,0.0925,0.092,0.092,0.0925,0.092,0.092,
0.0925,0.092,0.092,0.092,0.098,0.092,0.0915,0.092,0.0915,0.092,
0.092,0.0915,0.092,0.0915,0.0905,0.0935];

// ---------- PANELS ----------
const panelTitles = ['Ant1-amplitude gain solutions','Ant2-amplitude gain solutions','Ant3-amplitude gain solutions',
  'Ant4-amplitude gain solutions','Ant5-amplitude gain solutions','Ant6-amplitude gain solutions','Ant7-amplitude gain solutions'];
const panelData = [
  [a1_casaH,a1_zcalH,a1_casaV,a1_zcalV],
  [a2_casaH,a2_zcalH,a2_casaV,a2_zcalV],
  [a3_casaH,a3_zcalH,a3_casaV,a3_zcalV],
  [a4_casaH,a4_zcalH,a4_casaV,a4_zcalV],
  [a5_casaH,a5_zcalH,a5_casaV,a5_zcalV],
  [a6_casaH,a6_zcalH,a6_casaV,a6_zcalV],
  [a7_casaH,a7_zcalH,a7_casaV,a7_zcalV]
];
const yMin = [0.080,0.080,0.0,0.05,0.085,0.085,0.085];
const yMax = [0.125,0.125,1.0,0.50,0.130,0.130,0.130];
const yStep = [0.005,0.005,0.2,0.05,0.005,0.005,0.005];
const yDec = [3,3,1,2,3,3,3];
const xLabel = 'Time index';
const yLabel = 'Amplitude';

// ---------- LAYOUT / STYLE ----------
const COND = "'DejaVu Sans Condensed','DejaVu Sans',sans-serif";
const DJV = "'DejaVu Sans',sans-serif";
const gridPos = [[42,20],[574,20],[42,228],[574,228],[42,436],[574,436],[42,644]];
const W = 444, H = 148;
const yNameX = [10.5,543,20,548,11,543,11];
const colors = ['#0000ff','#ff0000','#007f00','#bfbf00'];
const symbols = ['triangle','circle','triangle','circle'];
const sizes = [6.5,6,6.5,6];
const triPath = 'path://M0,6L3,0L6,6Z M8,6L11,0L14,6Z';
const cirPath = 'path://M0,3A3,3,0,1,1,6,3A3,3,0,1,1,0,3Z M8,3A3,3,0,1,1,14,3A3,3,0,1,1,8,3Z';

const xAxes = [], yAxes = [], series = [], grids = [], texts = [];
gridPos.forEach((g,k)=>{
  grids.push({left:g[0], top:g[1], width:W, height:H, show:false});
  texts.push({type:'text', x:g[0]+W/2, y:g[1]-9.5, scaleX:0.905, z:10,
    style:{text:panelTitles[k], fontFamily:DJV, fontWeight:'bold', fontSize:16.5, fill:'#000',
      align:'center', textAlign:'center', verticalAlign:'middle', textVerticalAlign:'middle'}});
  texts.push({type:'text', x:g[0]+W/2, y:g[1]+H+23, scaleX:0.742, z:10,
    style:{text:xLabel, fontFamily:DJV, fontSize:16.5, fill:'#000',
      align:'center', textAlign:'center', verticalAlign:'middle', textVerticalAlign:'middle'}});
  texts.push({type:'text', x:yNameX[k], y:g[1]+H/2, rotation:Math.PI/2, scaleY:0.75, z:10,
    style:{text:yLabel, fontFamily:DJV, fontSize:15.6, fill:'#000',
      align:'center', textAlign:'center', verticalAlign:'middle', textVerticalAlign:'middle'}});
  xAxes.push({gridIndex:k, type:'value', min:0, max:160, interval:20, position:'bottom',
    axisLine:{show:true, onZero:false, lineStyle:{color:'#000', width:1}},
    axisTick:{show:true, inside:true, length:4, lineStyle:{color:'#000'}},
    axisLabel:{show:true, margin:4, fontFamily:COND, fontSize:9, color:'#000'},
    splitLine:{show:true, lineStyle:{color:'#8a8a8a', width:1, type:[1,2]}}});
  yAxes.push({gridIndex:k, type:'value', min:yMin[k], max:yMax[k], interval:yStep[k], position:'left',
    axisLine:{show:true, onZero:false, lineStyle:{color:'#000', width:1}},
    axisTick:{show:true, inside:true, length:4, lineStyle:{color:'#000'}},
    axisLabel:{show:true, margin:2, fontFamily:COND, fontSize:9, color:'#000',
      formatter:(v)=>v.toFixed(yDec[k])},
    splitLine:{show:true, lineStyle:{color:'#8a8a8a', width:1, type:[1,2]}}});
  panelData[k].forEach((arr,s)=>{
    series.push({type:'scatter', name:seriesNames[s], xAxisIndex:k, yAxisIndex:k,
      symbol:symbols[s], symbolSize:sizes[s], clip:true,
      itemStyle:{color:colors[s], borderColor:'#000', borderWidth:0.6, opacity:1},
      emphasis:{disabled:true},
      data:arr.map((v,i)=>[i,v]).filter(p=>p[1]!==null)});
  });
});
// mirror axes (top / right) for the box frame and inner ticks
gridPos.forEach((g,k)=>{
  xAxes.push({gridIndex:k, type:'value', min:0, max:160, interval:20, position:'top',
    axisLine:{show:true, onZero:false, lineStyle:{color:'#000', width:1}},
    axisTick:{show:true, inside:true, length:4, lineStyle:{color:'#000'}},
    axisLabel:{show:false}, splitLine:{show:false}});
  yAxes.push({gridIndex:k, type:'value', min:yMin[k], max:yMax[k], interval:yStep[k], position:'right',
    axisLine:{show:true, onZero:false, lineStyle:{color:'#000', width:1}},
    axisTick:{show:true, inside:true, length:4, lineStyle:{color:'#000'}},
    axisLabel:{show:false}, splitLine:{show:false}});
});

const chart = echarts.init(document.getElementById('c'), null, {renderer:'canvas'});
chart.setOption({
  animation:false,
  backgroundColor:'#fff',
  graphic:{elements:texts},
  grid:grids,
  xAxis:xAxes,
  yAxis:yAxes,
  legend:{orient:'vertical', left:486, top:19, z:10, itemWidth:14, itemHeight:6, itemGap:4,
    padding:[4,3,3,2], backgroundColor:'#fff', borderColor:'#000', borderWidth:1, borderRadius:0,
    selectedMode:false,
    textStyle:{fontFamily:COND, fontSize:6.5, color:'#000', padding:[0,0,0,-1]},
    data:seriesNames.map((n,s)=>({name:n, icon:(s%2===0?triPath:cirPath),
      itemStyle:{color:colors[s], borderColor:'#000', borderWidth:0.5}}))},
  series:series
});
</script>
</body>
</html>
